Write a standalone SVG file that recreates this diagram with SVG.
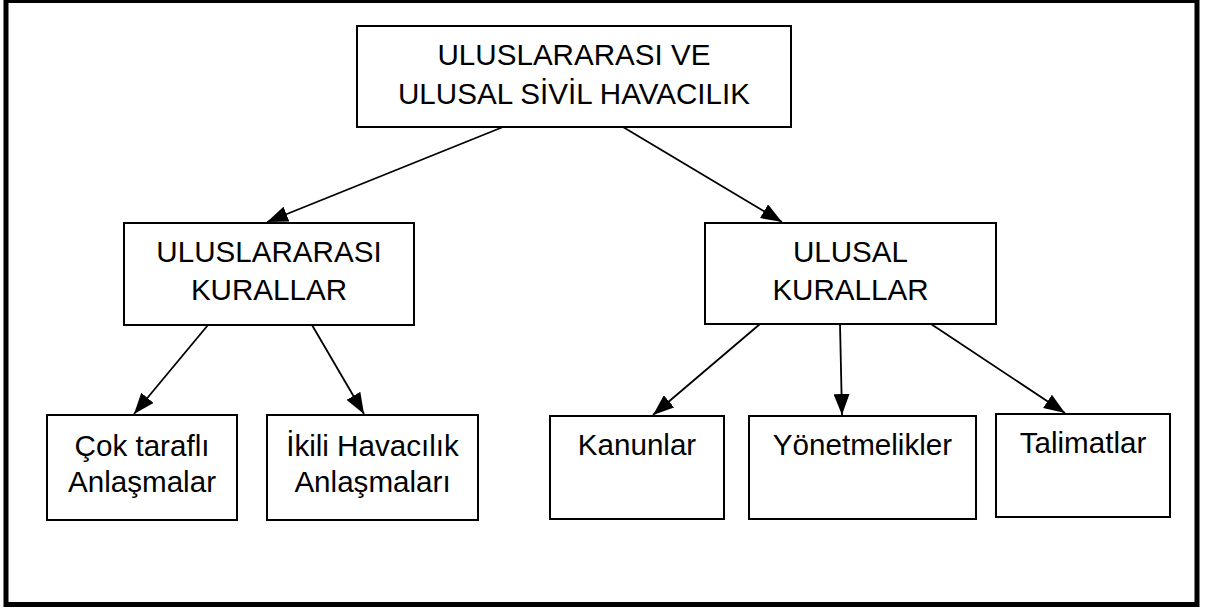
<svg xmlns="http://www.w3.org/2000/svg" width="1217" height="610" viewBox="0 0 1217 610">
  <defs>
    <style>
      .box { fill: #ffffff; stroke: #000000; stroke-width: 2; }
      .lbl { font-family: "Liberation Sans", Arial, sans-serif; font-size: 29.6px; fill: #000000; text-anchor: middle; }
      .conn { stroke: #000000; stroke-width: 1.8; fill: none; marker-end: url(#arrow); }
    </style>
    <marker id="arrow" markerUnits="userSpaceOnUse" markerWidth="21" markerHeight="16" refX="21" refY="8" orient="auto">
      <path d="M0,0 L21,8 L0,16 z" fill="#000000"/>
    </marker>
  </defs>
  <rect x="0" y="0" width="1217" height="610" fill="#ffffff"/>
  <rect id="frame" x="6" y="0.5" width="1191" height="604" fill="none" stroke="#000000" stroke-width="5"/>

  <g id="connectors">
    <line class="conn" x1="503" y1="127" x2="267" y2="222"/>
    <line class="conn" x1="623" y1="127" x2="782" y2="222"/>
    <line class="conn" x1="208" y1="325" x2="134" y2="414"/>
    <line class="conn" x1="312" y1="325" x2="364" y2="414"/>
    <line class="conn" x1="760" y1="324" x2="653" y2="415"/>
    <line class="conn" x1="840" y1="324" x2="842" y2="415"/>
    <line class="conn" x1="931" y1="324" x2="1065" y2="413"/>
  </g>

  <g id="root">
    <rect class="box" x="357" y="26" width="434" height="101"/>
    <text class="lbl" x="574" y="65">ULUSLARARASI VE</text>
    <text class="lbl" x="574" y="104">ULUSAL SİVİL HAVACILIK</text>
  </g>

  <g id="uluslararasi">
    <rect class="box" x="124" y="223" width="290" height="102"/>
    <text class="lbl" x="269" y="262">ULUSLARARASI</text>
    <text class="lbl" x="269" y="300">KURALLAR</text>
  </g>

  <g id="ulusal">
    <rect class="box" x="705" y="223" width="291" height="101"/>
    <text class="lbl" x="850.5" y="262">ULUSAL</text>
    <text class="lbl" x="850.5" y="300">KURALLAR</text>
  </g>

  <g id="cok-tarafli">
    <rect class="box" x="47" y="415" width="190" height="105"/>
    <text class="lbl" x="142" y="456">Çok taraflı</text>
    <text class="lbl" x="142" y="492">Anlaşmalar</text>
  </g>

  <g id="ikili">
    <rect class="box" x="267" y="415" width="211" height="105"/>
    <text class="lbl" x="372.5" y="456">İkili Havacılık</text>
    <text class="lbl" x="372.5" y="492">Anlaşmaları</text>
  </g>

  <g id="kanunlar">
    <rect class="box" x="550" y="416" width="174" height="103"/>
    <text class="lbl" x="637" y="455">Kanunlar</text>
  </g>

  <g id="yonetmelikler">
    <rect class="box" x="749" y="416" width="227" height="103"/>
    <text class="lbl" x="862.5" y="455">Yönetmelikler</text>
  </g>

  <g id="talimatlar">
    <rect class="box" x="996" y="414" width="174" height="103"/>
    <text class="lbl" x="1083" y="453">Talimatlar</text>
  </g>
</svg>
